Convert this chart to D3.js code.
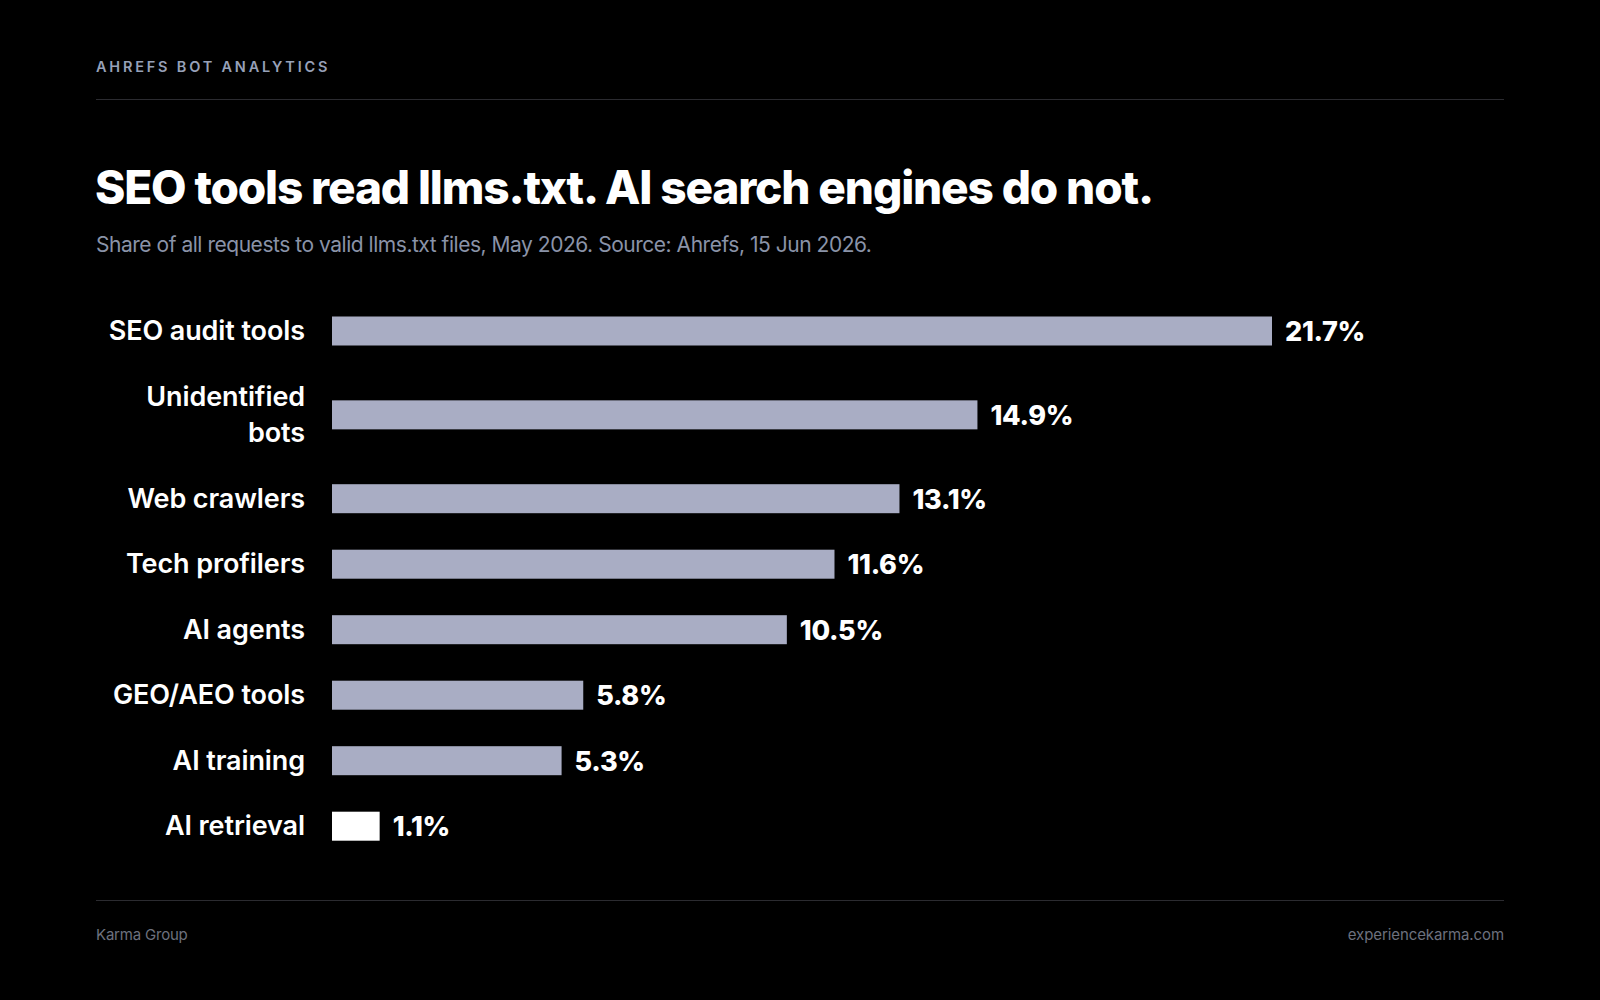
<!DOCTYPE html>
<html>
<head>
<meta charset="utf-8">
<script src="https://cdn.jsdelivr.net/npm/d3@7"></script>
<style>
  html, body { margin: 0; padding: 0; background: #000; }
  svg { display: block; }
</style>
</head>
<body>
<svg id="chart" width="1600" height="1000"></svg>
<script>
// ---- data ----
const categories = [
  ["SEO audit tools"],
  ["Unidentified", "bots"],
  ["Web crawlers"],
  ["Tech profilers"],
  ["AI agents"],
  ["GEO/AEO tools"],
  ["AI training"],
  ["AI retrieval"]
];
const values = [21.7, 14.9, 13.1, 11.6, 10.5, 5.8, 5.3, 1.1];
const highlight = [false, false, false, false, false, false, false, true];
const eyebrow = "AHREFS BOT ANALYTICS";
const title = "SEO tools read llms.txt. AI search engines do not.";
const subtitle = "Share of all requests to valid llms.txt files, May 2026. Source: Ahrefs, 15 Jun 2026.";
const footerLeft = "Karma Group";
const footerRight = "experiencekarma.com";

// ---- layout ----
const W = 1600, H = 1000;
const left = 96, right = 1504;
const font = "Inter, 'Noto Sans', sans-serif";
const svg = d3.select("#chart");
svg.append("rect").attr("width", W).attr("height", H).attr("fill", "#000");

svg.append("text").text(eyebrow)
  .attr("x", left).attr("y", 71.5)
  .attr("fill", "#97a1b8").attr("font-family", font)
  .attr("font-size", 14.5).attr("font-weight", 600)
  .attr("letter-spacing", 2.8);

svg.append("line").attr("x1", left).attr("x2", right).attr("y1", 99.5).attr("y2", 99.5)
  .attr("stroke", "#2b2b30").attr("stroke-width", 1);

svg.append("text").text(title)
  .attr("x", left - 1).attr("y", 204)
  .attr("fill", "#fff").attr("font-family", font)
  .attr("font-size", 46).attr("font-weight", 800)
  .attr("letter-spacing", -1.15);

svg.append("text").text(subtitle)
  .attr("x", left).attr("y", 251.5)
  .attr("fill", "#8a93a8").attr("font-family", font)
  .attr("font-size", 21).attr("font-weight", 400)
  .attr("letter-spacing", -0.47);

// rows with variable height by number of label lines
const lineH = 36.7, gap = 28.8, firstCenter = 331;
const centers = [];
let cursor = firstCenter - lineH / 2;
categories.forEach(c => {
  const h = c.length * lineH;
  centers.push(cursor + h / 2);
  cursor += h + gap;
});
const keys = categories.map(c => c.join(" "));
const y = d3.scaleOrdinal().domain(keys).range(centers);
const x = d3.scaleLinear().domain([0, 21.7]).range([332, 1272]);
const barH = 29;

const rows = svg.append("g").selectAll("g").data(values.map((v, i) => ({
  key: keys[i], lines: categories[i], value: v, hl: highlight[i]
}))).join("g");

rows.append("rect")
  .attr("x", x(0))
  .attr("y", d => y(d.key) - barH / 2)
  .attr("width", d => x(d.value) - x(0))
  .attr("height", barH)
  .attr("fill", d => d.hl ? "#ffffff" : "#a9adc4");

rows.append("text")
  .attr("x", d => x(d.value) + 13)
  .attr("y", d => y(d.key) + 10)
  .attr("fill", "#fff").attr("font-family", font)
  .attr("font-size", 27).attr("font-weight", 800)
  .attr("letter-spacing", -0.3)
  .text(d => d.value.toFixed(1) + "%");

rows.each(function(d) {
  const g = d3.select(this);
  const n = d.lines.length;
  d.lines.forEach((ln, j) => {
    g.append("text")
      .attr("x", 305).attr("text-anchor", "end")
      .attr("y", y(d.key) + (j - (n - 1) / 2) * lineH + 9)
      .attr("fill", "#fff").attr("font-family", font)
      .attr("font-size", 27).attr("font-weight", 600)
      .attr("letter-spacing", -0.1)
      .text(ln);
  });
});

svg.append("line").attr("x1", left).attr("x2", right).attr("y1", 900.5).attr("y2", 900.5)
  .attr("stroke", "#2b2b30").attr("stroke-width", 1);

svg.append("text").text(footerLeft)
  .attr("x", left).attr("y", 940)
  .attr("fill", "#6d717e").attr("font-family", font)
  .attr("font-size", 15).attr("letter-spacing", -0.2);
svg.append("text").text(footerRight)
  .attr("x", right).attr("y", 940).attr("text-anchor", "end")
  .attr("fill", "#6d717e").attr("font-family", font)
  .attr("font-size", 15).attr("letter-spacing", -0.1);
</script>
</body>
</html>
